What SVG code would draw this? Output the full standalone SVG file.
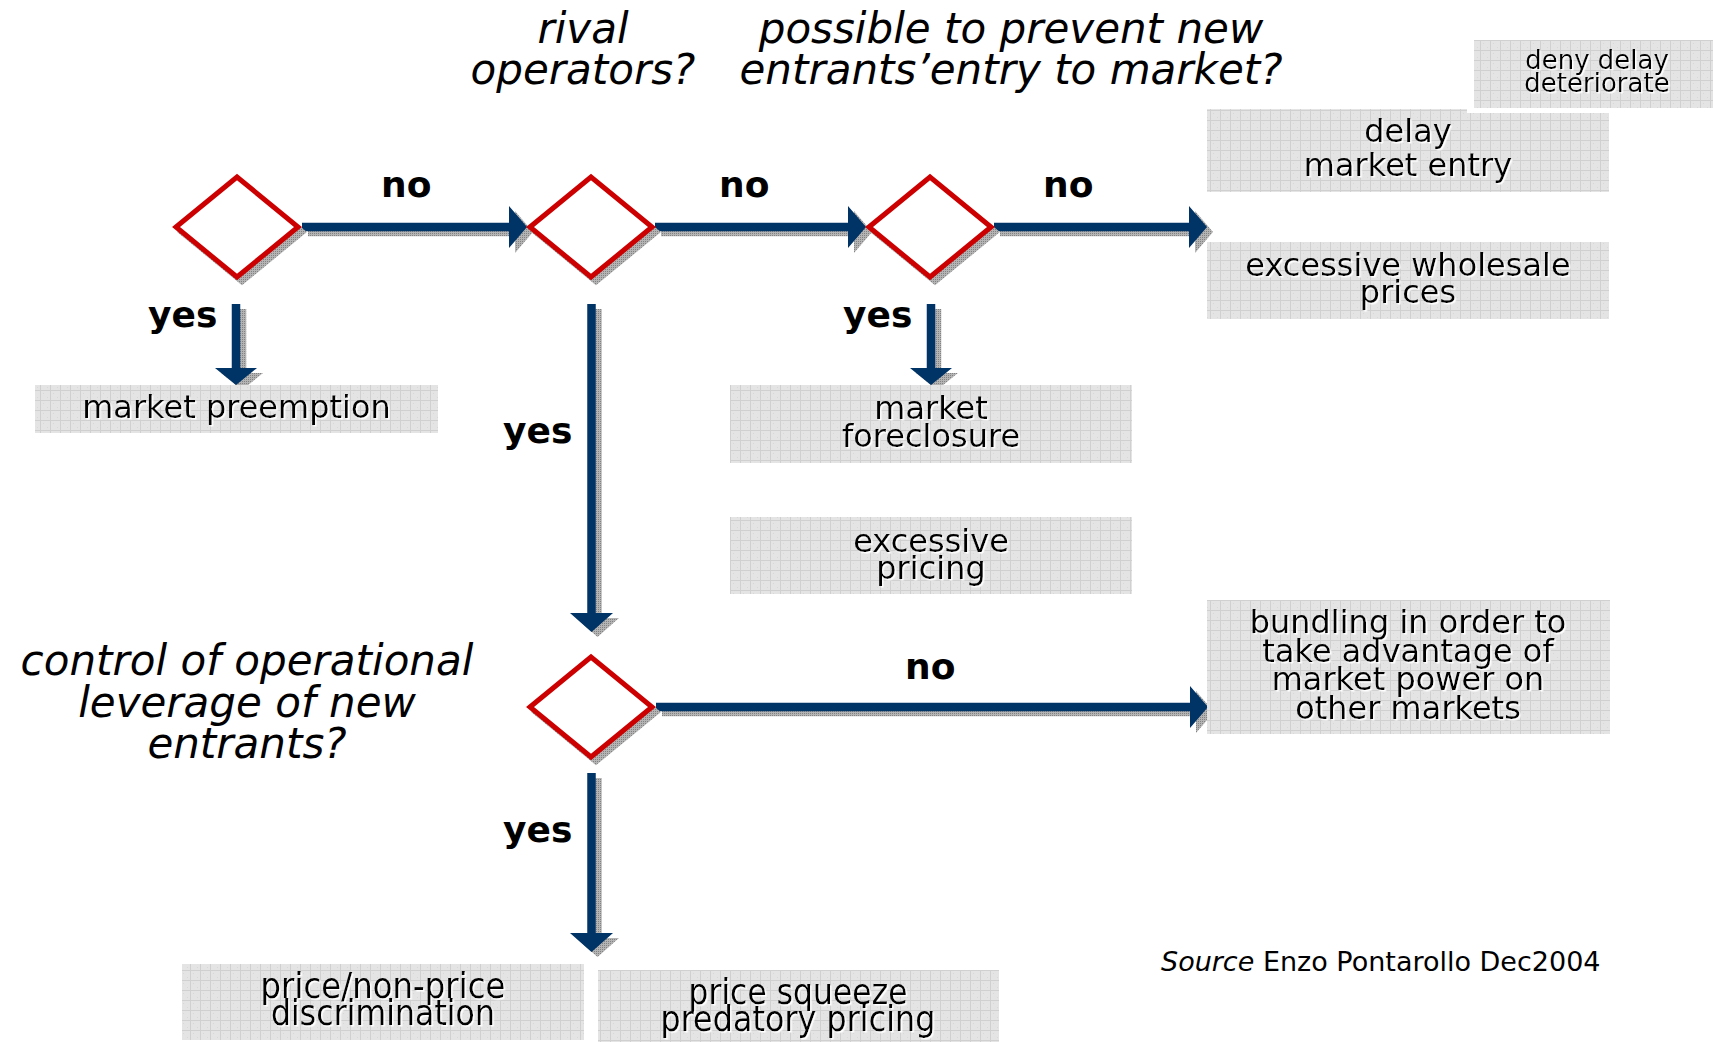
<svg xmlns="http://www.w3.org/2000/svg" width="1713" height="1042" viewBox="0 0 1713 1042">
<defs>
<style>
.q{font-family:"DejaVu Sans","Liberation Sans",sans-serif;font-style:italic;font-size:42px;text-anchor:middle;fill:#000}
.lbl{font-family:"DejaVu Sans","Liberation Sans",sans-serif;font-weight:bold;font-size:36px;fill:#000}
.bt{font-family:"DejaVu Sans","Liberation Sans",sans-serif;font-size:32px;text-anchor:middle;fill:#000;filter:url(#ws)}
.sm{font-size:26px}
.cd{font-size:35px}
.box{fill:url(#grid)}
.dia{fill:#fff;stroke:#cc0000;stroke-width:5}
.dsh{fill:url(#hatch);stroke:url(#hatch);stroke-width:5}
.arr{fill:#003366}
.ash{fill:url(#hatch)}
.src{font-family:"DejaVu Sans","Liberation Sans",sans-serif;font-size:27px;fill:#000}
</style>
<pattern id="hatch" width="2" height="2" patternUnits="userSpaceOnUse"><rect width="2" height="2" fill="#b4b4b4"/><rect width="1" height="1" fill="#828282"/></pattern>
<pattern id="grid" width="10" height="10" patternUnits="userSpaceOnUse"><rect width="10" height="10" fill="#e4e4e4"/><rect x="3" y="3" width="1" height="1" fill="#d8d8d8"/><rect x="7" y="7" width="1" height="1" fill="#d8d8d8"/><path d="M0 0.5H10M0.5 0V10" stroke="#d0d0d0" stroke-width="1"/></pattern>
<filter id="ws" x="-5%" y="-20%" width="110%" height="140%"><feDropShadow dx="1.5" dy="1.5" stdDeviation="0" flood-color="#ffffff" flood-opacity="1"/></filter>
</defs>
<rect width="1713" height="1042" fill="#fff"/>

<g id="titles">
<text class="q" x="583" y="43">rival</text>
<text class="q" x="583" y="84">operators?</text>
<text class="q" x="1011" y="43">possible to prevent new</text>
<text class="q" x="1011" y="84">entrants’entry to market?</text>
<text class="q" x="247" y="675">control of operational</text>
<text class="q" x="247" y="717">leverage of new</text>
<text class="q" x="247" y="758">entrants?</text>
</g>

<g id="connectors">
<g id="arrow-shadows" transform="translate(6,5)">
<path class="ash" d="M302,222.75H509V206L527,227L509,248V231.25H302Z"/>
<path class="ash" d="M655,222.75H848V206L866,227L848,248V231.25H655Z"/>
<path class="ash" d="M994,222.75H1189V206L1207,227L1189,248V231.25H994Z"/>
<path class="ash" d="M656,702.75H1190V686L1208,707L1190,728V711.25H656Z"/>
<path class="ash" d="M231.75,304V368H215L236,385L257,368H240.25V304Z"/>
<path class="ash" d="M587.25,304V613H570L591.5,632L613,613H595.75V304Z"/>
<path class="ash" d="M926.75,304V368H910L931,385L952,368H935.25V304Z"/>
<path class="ash" d="M587.25,773V933H570L591.5,952L613,933H595.75V773Z"/>
</g>
<path class="arr" d="M302,222.75H509V206L527,227L509,248V231.25H302Z"/>
<path class="arr" d="M655,222.75H848V206L866,227L848,248V231.25H655Z"/>
<path class="arr" d="M994,222.75H1189V206L1207,227L1189,248V231.25H994Z"/>
<path class="arr" d="M656,702.75H1190V686L1208,707L1190,728V711.25H656Z"/>
<path class="arr" d="M231.75,304V368H215L236,385L257,368H240.25V304Z"/>
<path class="arr" d="M587.25,304V613H570L591.5,632L613,613H595.75V304Z"/>
<path class="arr" d="M926.75,304V368H910L931,385L952,368H935.25V304Z"/>
<path class="arr" d="M587.25,773V933H570L591.5,952L613,933H595.75V773Z"/>
<text class="lbl" x="381" y="197">no</text>
<text class="lbl" x="719" y="197">no</text>
<text class="lbl" x="1043" y="197">no</text>
<text class="lbl" x="905" y="679">no</text>
<text class="lbl" x="148" y="327">yes</text>
<text class="lbl" x="503" y="443">yes</text>
<text class="lbl" x="843" y="327">yes</text>
<text class="lbl" x="503" y="842">yes</text>
</g>

<g id="d1">
<polygon class="dsh" points="176,227 237,177 298,227 237,277" transform="translate(5,5)"/>
<polygon class="dia" points="176,227 237,177 298,227 237,277"/>
</g>
<g id="d2">
<polygon class="dsh" points="530,227 591,177 652,227 591,277" transform="translate(5,5)"/>
<polygon class="dia" points="530,227 591,177 652,227 591,277"/>
</g>
<g id="d3">
<polygon class="dsh" points="869,227 930,177 991,227 930,277" transform="translate(5,5)"/>
<polygon class="dia" points="869,227 930,177 991,227 930,277"/>
</g>
<g id="d4">
<polygon class="dsh" points="530,707 591,657 652,707 591,757" transform="translate(5,5)"/>
<polygon class="dia" points="530,707 591,657 652,707 591,757"/>
</g>

<g id="n-delay">
<rect class="box" x="1207" y="109" width="402" height="83"/>
<text class="bt" x="1408" y="142">delay</text>
<text class="bt" x="1408" y="176">market entry</text>
</g>
<g id="n-deny">
<rect x="1467" y="33" width="246" height="80" fill="#fff"/>
<rect class="box" x="1474" y="40" width="239" height="68"/>
<text class="bt sm" x="1597" y="69">deny delay</text>
<text class="bt sm" x="1597" y="92">deteriorate</text>
</g>
<g id="n-wholesale">
<rect class="box" x="1207" y="242" width="402" height="77"/>
<text class="bt" x="1408" y="276">excessive wholesale</text>
<text class="bt" x="1408" y="303">prices</text>
</g>
<g id="n-preemption">
<rect class="box" x="35" y="385" width="403" height="48"/>
<text class="bt" x="236.5" y="418">market preemption</text>
</g>
<g id="n-foreclosure">
<rect class="box" x="730" y="385" width="402" height="78"/>
<text class="bt" x="931" y="419">market</text>
<text class="bt" x="931" y="447">foreclosure</text>
</g>
<g id="n-excessive">
<rect class="box" x="730" y="517" width="402" height="77"/>
<text class="bt" x="931" y="552">excessive</text>
<text class="bt" x="931" y="579">pricing</text>
</g>
<g id="n-bundling">
<rect class="box" x="1207" y="600" width="403" height="134"/>
<text class="bt" x="1408" y="633">bundling in order to</text>
<text class="bt" x="1408" y="662">take advantage of</text>
<text class="bt" x="1408" y="690">market power on</text>
<text class="bt" x="1408" y="719">other markets</text>
</g>
<g id="n-discrimination">
<rect class="box" x="182" y="964" width="402" height="76"/>
<text class="bt cd" x="383" y="998" textLength="245" lengthAdjust="spacingAndGlyphs">price/non-price</text>
<text class="bt cd" x="383" y="1025" textLength="224" lengthAdjust="spacingAndGlyphs">discrimination</text>
</g>
<g id="n-squeeze">
<rect class="box" x="598" y="970" width="401" height="72"/>
<text class="bt cd" x="798" y="1004" textLength="219" lengthAdjust="spacingAndGlyphs">price squeeze</text>
<text class="bt cd" x="798" y="1031" textLength="275" lengthAdjust="spacingAndGlyphs">predatory pricing</text>
</g>

<text class="src" x="1161" y="971"><tspan font-style="italic">Source</tspan> Enzo Pontarollo Dec2004</text>
</svg>
